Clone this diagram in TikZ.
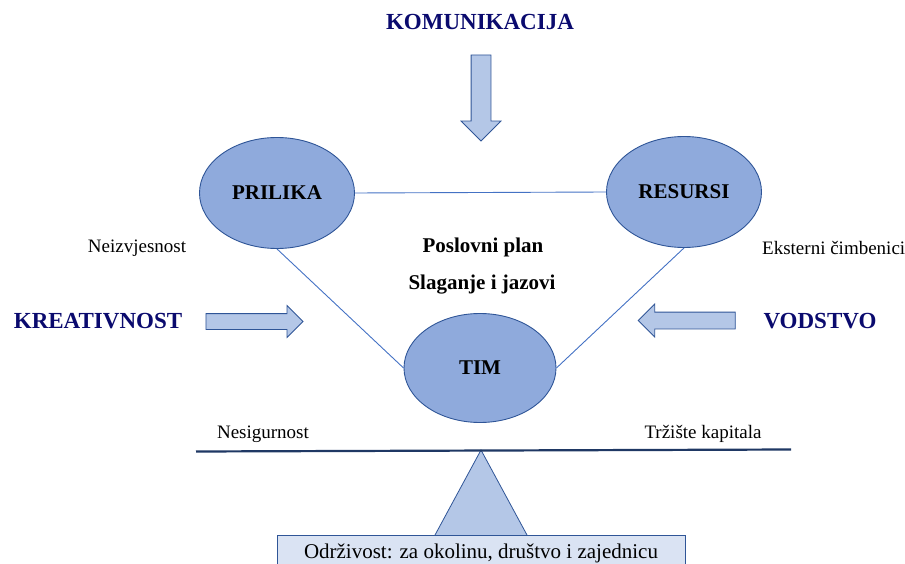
\documentclass[tikz,border=0pt]{standalone}
\usepackage{tikz}
\usetikzlibrary{positioning, shapes.geometric, shapes.arrows}
\usepackage{fontspec}
\setmainfont{Liberation Serif}

\definecolor{ovalfill}{HTML}{8FAADC}
\definecolor{ovaldraw}{HTML}{2F5597}
\definecolor{arrowfill}{HTML}{B4C7E7}
\definecolor{linkblue}{HTML}{4472C4}
\definecolor{titlenavy}{HTML}{0A0A6E}
\definecolor{beamnavy}{HTML}{1F3864}
\definecolor{basefill}{HTML}{DAE3F3}

\begin{document}
\begin{tikzpicture}[x=1pt,y=-1pt,
  oval/.style={ellipse, draw=ovaldraw, fill=ovalfill, line width=0.9pt,
    minimum width=155pt, minimum height=111pt, font=\rmfamily\fontsize{21}{25}\selectfont\bfseries},
  title/.style={text=titlenavy, font=\rmfamily\fontsize{23}{27}\selectfont\bfseries},
  note/.style={font=\rmfamily\fontsize{19}{23}\selectfont},
  plan/.style={font=\rmfamily\fontsize{21}{25}\selectfont\bfseries},
  force/.style={single arrow, draw=ovaldraw, fill=arrowfill, line width=0.8pt,
    inner xsep=0pt, inner ysep=7.5pt, single arrow head extend=8pt, single arrow head indent=0pt,
    minimum height=97pt},
  link/.style={draw=linkblue, line width=0.9pt}]
\useasboundingbox (0,0) rectangle (905,564);

\node (prilika) [oval] at (277,193) {PRILIKA};
\node (resursi) [oval] at (684,192) {RESURSI};
\node (tim) [oval, minimum width=152pt, minimum height=109pt] at (480,368) {TIM};

\path[link] (prilika.east) edge (resursi.west);
\path[link] (prilika.south) edge (tim.west);
\path[link] (resursi.south) edge (tim.east);

% sile oko tima
\node (komunikacija) [title] at (480,22) {KOMUNIKACIJA};
\node (kreativnost) [title] at (98,321) {KREATIVNOST};
\node (vodstvo) [title] at (820,321) {VODSTVO};
\node (komstrelica) [force, rotate=-90, inner ysep=9.5pt,
  minimum height=86pt, single arrow head extend=10pt] at (481,93) {};
\node (krestrelica) [force] at (250.5,321.5) {};
\node (vodstrelica) [force, rotate=180, inner ysep=8pt] at (691,320.5) {};

\node (neizvjesnost) [note] at (137,248) {Neizvjesnost};
\node (eksterni) [note, anchor=west, inner sep=0pt] at (762,248) {Eksterni čimbenici};
\node (plan) [plan] at (483,247) {Poslovni plan};
\node (jazovi) [plan] at (482,285) {Slaganje i jazovi};

% vaga
\coordinate (oslonac) at (481,450);
\filldraw[draw=ovaldraw, fill=arrowfill, line width=0.8pt]
  (oslonac) -- (429.6,545) -- (532.4,545) -- cycle;
\draw[beamnavy, line width=2.2pt] (196,451.5) -- (791,449.5);
\node (nesigurnost) [note] at (263,434) {Nesigurnost};
\node (trziste) [note] at (703,434) {Tržište kapitala};
\node (odrzivost) [draw=ovaldraw, fill=basefill, line width=0.8pt, anchor=north,
  minimum width=408pt, minimum height=36pt, font=\rmfamily\fontsize{21}{25}\selectfont]
  at (481,535) {Održivost: za okolinu, društvo i zajednicu};
\end{tikzpicture}
\end{document}
